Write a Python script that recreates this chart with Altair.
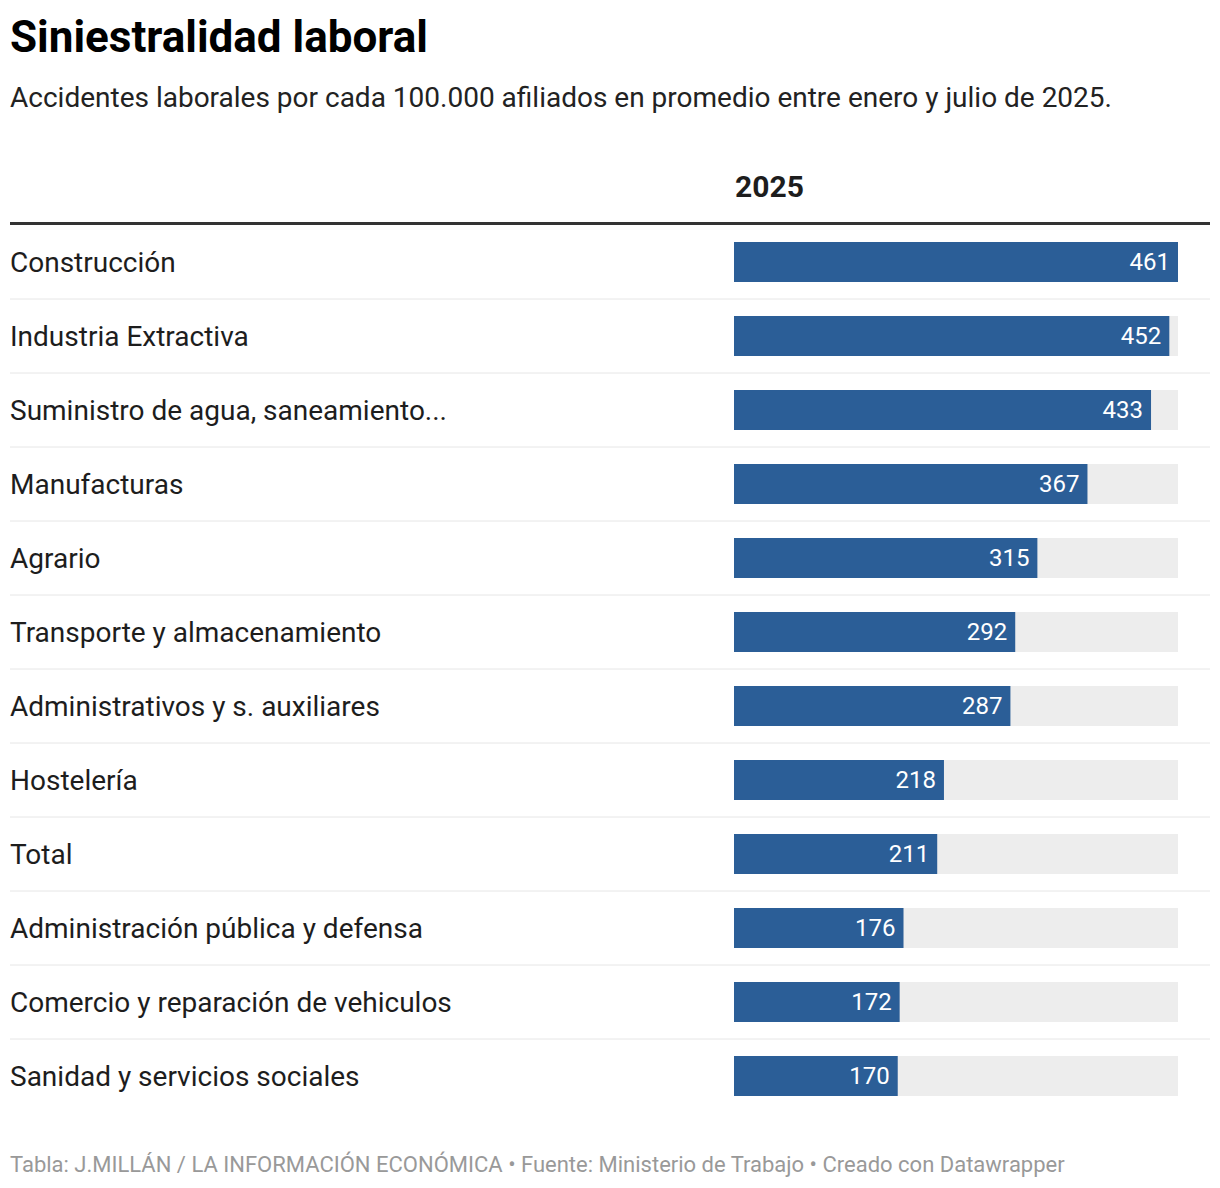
import altair as alt
import pandas as pd

categories = [
    "Construcción",
    "Industria Extractiva",
    "Suministro de agua, saneamiento...",
    "Manufacturas",
    "Agrario",
    "Transporte y almacenamiento",
    "Administrativos y s. auxiliares",
    "Hostelería",
    "Total",
    "Administración pública y defensa",
    "Comercio y reparación de vehiculos",
    "Sanidad y servicios sociales",
]
values = [461, 452, 433, 367, 315, 292, 287, 218, 211, 176, 172, 170]

title_text = "Siniestralidad laboral"
subtitle_text = "Accidentes laborales por cada 100.000 afiliados en promedio entre enero y julio de 2025."
header_text = "2025"
footer_text = ("Tabla: J.MILLÁN / LA INFORMACIÓN ECONÓMICA • Fuente: Ministerio de Trabajo "
               "• Creado con Datawrapper")

df = pd.DataFrame({"cat": categories, "value": values})
vmax = max(values)

FONT = "Roboto"
W, H = 1200, 888

y_scale = alt.Scale(domain=categories, paddingInner=0, paddingOuter=0)
x_scale = alt.Scale(domain=[0, vmax], range=[724, 1168], nice=False, zero=True)

base = alt.Chart(df)

bg = base.transform_joinaggregate(maxv="max(value)").mark_bar(
    height=40, color="#ededed"
).encode(
    y=alt.Y("cat:N", scale=y_scale, axis=None, sort=categories),
    x=alt.X("maxv:Q", scale=x_scale, axis=None),
)

bars = base.mark_bar(height=40, color="#2b5e97").encode(
    y=alt.Y("cat:N", scale=y_scale, axis=None, sort=categories),
    x=alt.X("value:Q", scale=x_scale, axis=None),
)

vals = base.mark_text(
    align="right", baseline="alphabetic", dx=-8, dy=8, font=FONT, fontSize=24, color="white"
).encode(
    y=alt.Y("cat:N", scale=y_scale, axis=None, sort=categories),
    x=alt.X("value:Q", scale=x_scale, axis=None),
    text=alt.Text("value:Q", format="d"),
)

labels = base.mark_text(
    align="left", baseline="alphabetic", dy=10, font=FONT, fontSize=28, color="#1d1d1d"
).encode(
    y=alt.Y("cat:N", scale=y_scale, axis=None, sort=categories),
    x=alt.value(0),
    text="cat:N",
)

seps = base.transform_filter(
    alt.datum.cat != categories[0]
).mark_rule(color="#e6e6e6", strokeWidth=1).encode(
    y=alt.Y("cat:N", scale=y_scale, axis=None, sort=categories, bandPosition=0),
    x=alt.value(0),
    x2=alt.value(W),
)

one = alt.Chart(alt.Data(values=[{"k": 1}]))

thick = one.mark_rule(color="#333333", strokeWidth=3).encode(
    y=alt.value(-1.5), x=alt.value(0), x2=alt.value(W)
)

title = one.mark_text(
    text=title_text, align="left", baseline="alphabetic", font=FONT, fontSize=44,
    fontWeight="bold", color="#000000"
).encode(x=alt.value(0), y=alt.value(-173))

subtitle = one.mark_text(
    text=subtitle_text, align="left", baseline="alphabetic", font=FONT, fontSize=28,
    color="#222222"
).encode(x=alt.value(0), y=alt.value(-118))

header = one.mark_text(
    text=header_text, align="left", baseline="alphabetic", font=FONT, fontSize=30,
    fontWeight="bold", color="#1d1d1d"
).encode(x=alt.value(725), y=alt.value(-28))

footer = one.mark_text(
    text=footer_text, align="left", baseline="alphabetic", font=FONT, fontSize=22,
    color="#999999"
).encode(x=alt.value(0), y=alt.value(947))

chart = alt.layer(
    bg, bars, vals, labels, seps, thick, title, subtitle, header, footer
).properties(
    width=W,
    height=H,
    autosize=alt.AutoSizeParams(type="none"),
    padding={"left": 10, "right": 10, "top": 225, "bottom": 75},
    background="white",
).configure_view(stroke=None)

chart.save("out.html", embed_options={"renderer": "svg", "actions": False})
